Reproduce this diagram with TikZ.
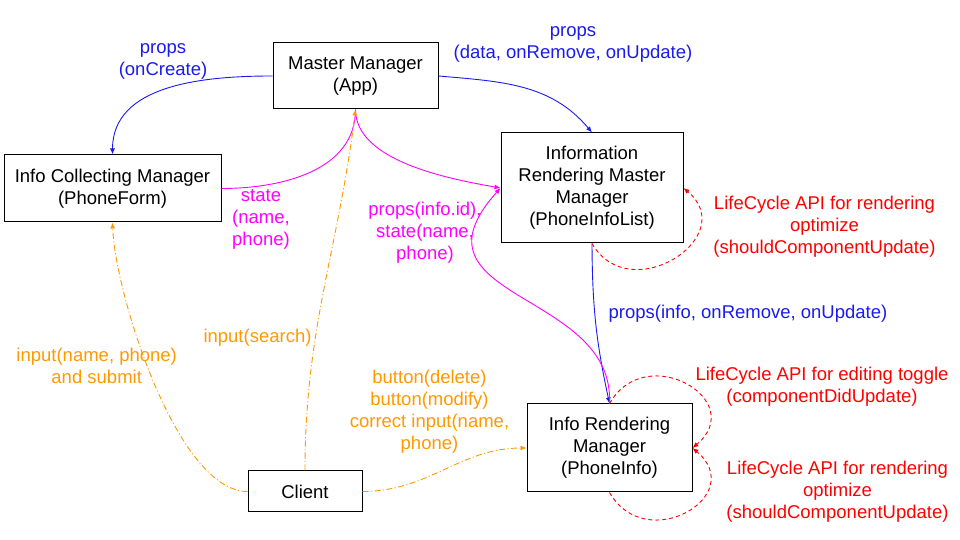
\documentclass[tikz,border=0pt]{standalone}
\usepackage{fontspec}
\setmainfont{Liberation Sans}
\usetikzlibrary{arrows.meta}
\definecolor{propblue}{RGB}{26,26,240}
\definecolor{statpink}{RGB}{255,0,255}
\definecolor{useorange}{RGB}{255,153,0}
\definecolor{lifered}{RGB}{255,0,0}

\begin{document}
\begin{tikzpicture}[x=1pt,y=1pt,font=\fontsize{18.5}{22}\selectfont]
  \tikzstyle{box} = [rectangle, draw=black, line width=1pt, fill=white, align=center, inner sep=0pt]
  \tikzstyle{lbl} = [align=center, inner sep=0pt]
  \tikzstyle{tip} = [-{Latex[length=6pt,width=5pt]}]
  \tikzstyle{prop} = [draw=propblue, line width=0.9pt, tip]
  \tikzstyle{stat} = [draw=statpink, line width=0.9pt]
  \tikzstyle{user} = [draw=useorange, line width=0.9pt, dash pattern=on 6pt off 2.5pt on 1pt off 2.5pt, tip]
  \tikzstyle{life} = [draw=lifered, line width=0.9pt, dash pattern=on 4pt off 3pt, tip]

  \useasboundingbox (0,0) rectangle (960,540);

  \node (master) [box, minimum width=165pt, minimum height=66pt] at (355.5,464) {Master Manager\\(App)};
  \node (form) [box, minimum width=217pt, minimum height=67pt] at (112.5,351.5) {Info Collecting Manager\\(PhoneForm)};
  \node (infolist) [box, minimum width=182pt, minimum height=110pt] at (592,352) {Information\\Rendering Master\\Manager\\(PhoneInfoList)};
  \node (info) [box, minimum width=165pt, minimum height=88pt] at (609.5,92) {Info Rendering\\Manager\\(PhoneInfo)};
  \node (client) [box, minimum width=114pt, minimum height=41pt] at (305,48.5) {Client};

  \node (oncreate) [lbl, text=propblue] at (163,479) {props\\(onCreate)};
  \node (ondata) [lbl, text=propblue] at (573,496) {props\\(data, onRemove, onUpdate)};
  \node (oninfo) [lbl, text=propblue] at (748,226) {props(info, onRemove, onUpdate)};
  \node (formstate) [lbl, text=statpink] at (261,321) {state\\(name,\\phone)};
  \node (infostate) [lbl, text=statpink] at (425,307) {props(info.id),\\state(name,\\phone)};
  \node (listlife) [lbl, text=lifered] at (824.5,313) {LifeCycle API for rendering\\optimize\\(shouldComponentUpdate)};
  \node (editlife) [lbl, text=lifered] at (822,153) {LifeCycle API for editing toggle\\(componentDidUpdate)};
  \node (infolife) [lbl, text=lifered] at (837.5,48.5) {LifeCycle API for rendering\\optimize\\(shouldComponentUpdate)};
  \node (inputform) [lbl, text=useorange] at (96.7,174) {input(name, phone)\\and submit};
  \node (inputsearch) [lbl, text=useorange] at (257.5,202.7) {input(search)};
  \node (inputinfo) [lbl, text=useorange] at (429.5,128.7) {button(delete)\\button(modify)\\correct input(name,\\phone)};

  \draw[prop] (master.west) to[out=180, in=90] (form.north);
  \draw[prop] (master.east) to[out=-5, in=130] (infolist.north);
  \draw[prop] (infolist.south) to[bend right=6] (info.north);

  \draw[stat] (form.east) to[out=0, in=-90] (master.south);
  \draw[stat, tip] (master.south) to[out=-90, in=170, looseness=0.8] (infolist.west);
  \draw[stat, tip] (info.north) .. controls (615,250) and (400,240) .. (infolist.west);

  \draw[life] (infolist.south) to[out=-60, in=-40, looseness=1.8] (infolist.east);
  \draw[life] (info.north) to[out=60, in=40, looseness=2] (info.east);
  \draw[life] (info.south) to[out=-60, in=-40, looseness=2] (info.east);

  \draw[user] (client.west) to[out=180, in=-88, looseness=0.6] (form.south);
  \draw[user] (client.north) to[out=90, in=-97] (master.south);
  \draw[user] (client.east) to[out=0, in=180] (info.west);
\end{tikzpicture}
\end{document}
